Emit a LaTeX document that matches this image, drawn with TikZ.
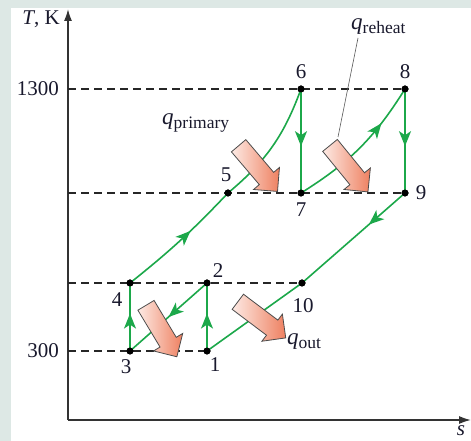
\documentclass[tikz,border=0pt]{standalone}
\usepackage{fontspec}
\setmainfont{Liberation Serif}
\usetikzlibrary{decorations.markings,shapes.arrows,arrows.meta}
\definecolor{bgframe}{RGB}{221,232,229}
\definecolor{cyc}{RGB}{28,168,74}
\definecolor{heatA}{RGB}{253,234,228}
\definecolor{heatB}{RGB}{238,128,96}
\definecolor{txt}{RGB}{25,25,45}
\begin{document}
\begin{tikzpicture}[x=1pt,y=1pt,
  dot/.style={circle,fill=black,inner sep=0pt,minimum size=7pt},
  lbl/.style={font=\fontsize{21}{23}\selectfont, text=txt, inner sep=0pt},
  qlbl/.style={font=\fontsize{23}{25}\selectfont, text=txt, inner sep=0pt},
  lvl/.style={dash pattern=on 8pt off 5pt, line width=1.2pt, black!85},
  axis/.style={line width=1.6pt, black!80},
  proc/.style={cyc, line width=1.6pt},
  mid/.style={postaction={decorate}, decoration={markings, mark=at position #1 with {\arrow{Stealth[length=15pt,width=12pt,inset=4pt]}}}},
  mid/.default=0.5,
  heat/.style={single arrow, draw=black!70, line width=0.8pt, left color=heatA, right color=heatB,
    minimum height=60pt, minimum width=34pt, inner sep=0pt, text height=8.5pt, text depth=8.5pt,
    text width=0pt, single arrow tip angle=90},
  lead/.style={gray!70!black, line width=0.6pt}
]
% background frame
\fill[bgframe] (0,0) rectangle (471,441);
\fill[white] (11,0) rectangle (471,433);
\useasboundingbox (0,0) rectangle (471,441);

% axes
\coordinate (O) at (68,21);
\coordinate (Ytop) at (68,432);
\coordinate (Xend) at (471,21);
\draw[axis, -{Latex[length=12pt,width=8pt]}] (O) -- (Ytop);
\draw[axis, -{Latex[length=12pt,width=8pt]}] (O) -- (Xend);
\node[lbl, anchor=east] (tk) at (60,422) {\textit{T}, K};
\node[lbl, anchor=base] (sl) at (461,5) {\textit{s}};

% level marks on the axis
\coordinate (a1300) at (68,352);
\coordinate (a5) at (68,248);
\coordinate (a4) at (68,158);
\coordinate (a300) at (68,90);
\node[lbl, anchor=east] (t1300) at (59,352) {1300};
\node[lbl, anchor=east] (t300) at (59,90) {300};

% state points
\node[dot] (p1) at (207,90) {};
\node[dot] (p2) at (207,158) {};
\node[dot] (p3) at (130,90) {};
\node[dot] (p4) at (130,158) {};
\node[dot] (p5) at (228,248) {};
\node[dot] (p6) at (301,352) {};
\node[dot] (p7) at (301,248) {};
\node[dot] (p8) at (405,352) {};
\node[dot] (p9) at (405,248) {};
\node[dot] (p10) at (302,158) {};

% dashed levels
\draw[lvl] (a1300) -- (p8.center);
\draw[lvl] (a5) -- (p9.center);
\draw[lvl] (a4) -- (p10.center);
\draw[lvl] (a300) -- (p1.center);

% processes
\draw[proc, mid=0.55] (p1.center) -- (p2.center);
\draw[proc, mid=0.5] (p2.center) -- (p3.center);
\draw[proc, mid=0.55] (p3.center) -- (p4.center);
\draw[proc, mid=0.6] (p4.center) to[bend right=4] (p5.center);
\draw[proc] (p5.center) to[bend right=15] (p6.center);
\draw[proc, mid=0.55] (p6.center) -- (p7.center);
\draw[proc, mid=0.72] (p7.center) to[bend right=13] (p8.center);
\draw[proc, mid=0.55] (p8.center) -- (p9.center);
\draw[proc, mid=0.35] (p9.center) -- (p10.center);
\draw[proc] (p10.center) -- (p1.center);

% redraw dots on top
\foreach \p in {p1,p2,p3,p4,p5,p6,p7,p8,p9,p10}{\fill (\p) circle (3.5pt);}

% point labels
\node[lbl] (l1) at (215,76) {1};
\node[lbl] (l2) at (218,170) {2};
\node[lbl] (l3) at (126,74) {3};
\node[lbl] (l4) at (117,141) {4};
\node[lbl] (l5) at (226,266) {5};
\node[lbl] (l6) at (301,369) {6};
\node[lbl] (l7) at (301,231) {7};
\node[lbl] (l8) at (405,369) {8};
\node[lbl] (l9) at (421,248) {9};
\node[lbl] (l10) at (303,135) {10};

% heat arrows
\node[heat, rotate=-49.6] (hp) at (255,276) {};
\node[heat, rotate=-50.8] (hr) at (346,276) {};
\node[heat, rotate=-59] (hl) at (159,114) {};
\node[heat, rotate=-37] (ho) at (258,124) {};

% heat labels
\node[qlbl, anchor=west] (qp) at (162,318) {\textit{q}\raisebox{-0.3ex}{\fontsize{17.5}{18}\selectfont primary}};
\node[qlbl, anchor=west] (qr) at (351,414) {\textit{q}\raisebox{-0.3ex}{\fontsize{17.5}{18}\selectfont reheat}};
\node[qlbl, anchor=west] (qo) at (287,99) {\textit{q}\raisebox{-0.3ex}{\fontsize{17.5}{18}\selectfont out}};
\coordinate (rl) at (338,304);
\draw[lead] (358,403) -- (rl);
\end{tikzpicture}
\end{document}
